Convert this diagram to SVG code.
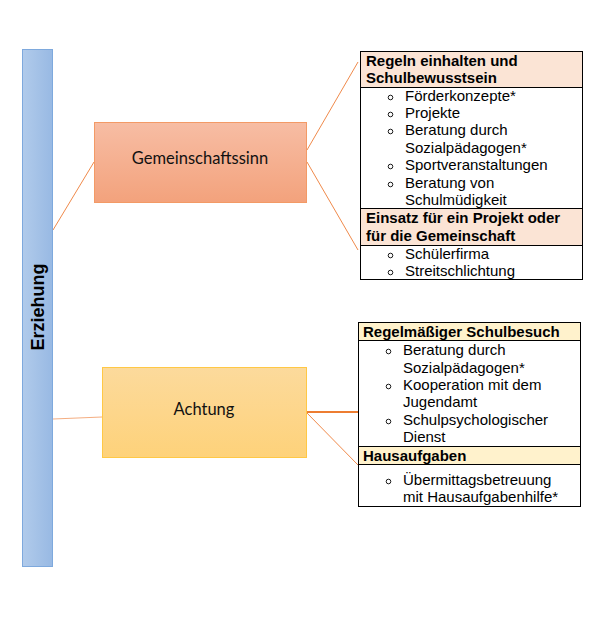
<svg xmlns="http://www.w3.org/2000/svg" width="594" height="635" viewBox="0 0 594 635">
<defs>
<linearGradient id="gBlue" x1="0" y1="0" x2="1" y2="0"><stop offset="0" stop-color="#B1CBEB"/><stop offset="1" stop-color="#98B9E3"/></linearGradient>
<linearGradient id="gOrange" x1="0" y1="0" x2="0" y2="1"><stop offset="0" stop-color="#F7BDA4"/><stop offset="1" stop-color="#F3A27C"/></linearGradient>
<linearGradient id="gYellow" x1="0" y1="0" x2="0" y2="1"><stop offset="0" stop-color="#FCDA9C"/><stop offset="1" stop-color="#FED27A"/></linearGradient>
</defs>
<style>
.t{font-family:"Liberation Sans",Arial,sans-serif;font-size:15px;fill:#000}
.h{font-family:"Liberation Sans",Arial,sans-serif;font-size:15px;font-weight:bold;fill:#000}
.n{font-family:Lato,"Open Sans",sans-serif;font-size:16.5px;fill:#111;text-anchor:middle}
.b{fill:none;stroke:#000;stroke-width:1}
.c{fill:none;stroke:#F08A4B;stroke-width:1}
.bul{fill:none;stroke:#000;stroke-width:0.9}
</style>
<g id="connectors">
<line class="c" x1="53" y1="230" x2="94" y2="162"/>
<line class="c" x1="307" y1="150" x2="358" y2="62"/>
<line class="c" x1="307" y1="162" x2="358" y2="250"/>
<line class="c" x1="53" y1="419" x2="102" y2="417" stroke-opacity="0.7"/>
<line x1="307" y1="412" x2="358" y2="412" stroke="#ED7D31" stroke-width="2"/>
<line class="c" x1="307" y1="413" x2="358" y2="465"/>
</g>
<g id="erziehung">
<rect x="22.5" y="49.5" width="30" height="517" fill="url(#gBlue)" stroke="#7EA9DD" stroke-width="1"/>
<text transform="translate(44,307) rotate(-90)" text-anchor="middle" style="font-family:'Liberation Sans',Arial,sans-serif;font-size:18px;font-weight:bold">Erziehung</text>
</g>
<g id="gemeinschaftssinn">
<rect x="94.5" y="122.5" width="212" height="80" fill="url(#gOrange)" stroke="#F39A66" stroke-width="1"/>
<text class="n" x="200" y="164">Gemeinschaftssinn</text>
</g>
<g id="achtung">
<rect x="102.5" y="367.5" width="204" height="90" fill="url(#gYellow)" stroke="#FFC845" stroke-width="1"/>
<text class="n" x="204" y="415">Achtung</text>
</g>
<g id="box1">
<rect x="360.5" y="51.5" width="222" height="36" fill="#FBE4D5"/>
<rect x="360.5" y="208.5" width="222" height="37" fill="#FBE4D5"/>
<rect class="b" x="360.5" y="51.5" width="222" height="228"/>
<line class="b" x1="360.5" y1="87.5" x2="582.5" y2="87.5"/>
<line class="b" x1="360.5" y1="208.5" x2="582.5" y2="208.5"/>
<line class="b" x1="360.5" y1="245.5" x2="582.5" y2="245.5"/>
<text class="h" x="366" y="66">Regeln einhalten und</text>
<text class="h" x="366" y="83">Schulbewusstsein</text>
<g class="bul"><circle cx="390.5" cy="97.5" r="2.3"/><circle cx="390.5" cy="114.5" r="2.3"/><circle cx="390.5" cy="131.5" r="2.3"/><circle cx="390.5" cy="166.5" r="2.3"/><circle cx="390.5" cy="184.5" r="2.3"/><circle cx="390.5" cy="255.5" r="2.3"/><circle cx="390.5" cy="272.5" r="2.3"/></g>
<text class="t" x="405" y="101">Förderkonzepte*</text>
<text class="t" x="405" y="118">Projekte</text>
<text class="t" x="405" y="135">Beratung durch</text>
<text class="t" x="405" y="153">Sozialpädagogen*</text>
<text class="t" x="405" y="170">Sportveranstaltungen</text>
<text class="t" x="405" y="188">Beratung von</text>
<text class="t" x="405" y="205">Schulmüdigkeit</text>
<text class="h" x="366" y="223">Einsatz für ein Projekt oder</text>
<text class="h" x="366" y="241">für die Gemeinschaft</text>
<text class="t" x="405" y="259">Schülerfirma</text>
<text class="t" x="405" y="276">Streitschlichtung</text>
</g>
<g id="box2">
<rect x="358.5" y="322.5" width="222" height="18" fill="#FFF2CC"/>
<rect x="358.5" y="446.5" width="222" height="18" fill="#FFF2CC"/>
<rect class="b" x="358.5" y="322.5" width="222" height="184"/>
<line class="b" x1="358.5" y1="340.5" x2="580.5" y2="340.5"/>
<line class="b" x1="358.5" y1="446.5" x2="580.5" y2="446.5"/>
<line class="b" x1="358.5" y1="464.5" x2="580.5" y2="464.5"/>
<text class="h" x="363" y="337">Regelmäßiger Schulbesuch</text>
<g class="bul"><circle cx="388.5" cy="351.5" r="2.3"/><circle cx="388.5" cy="386.5" r="2.3"/><circle cx="388.5" cy="421.5" r="2.3"/><circle cx="388.5" cy="481.5" r="2.3"/></g>
<text class="t" x="403" y="355">Beratung durch</text>
<text class="t" x="403" y="373">Sozialpädagogen*</text>
<text class="t" x="403" y="390">Kooperation mit dem</text>
<text class="t" x="403" y="407">Jugendamt</text>
<text class="t" x="403" y="425">Schulpsychologischer</text>
<text class="t" x="403" y="442">Dienst</text>
<text class="h" x="363" y="461">Hausaufgaben</text>
<text class="t" x="403" y="485">Übermittagsbetreuung</text>
<text class="t" x="403" y="502">mit Hausaufgabenhilfe*</text>
</g>
</svg>
